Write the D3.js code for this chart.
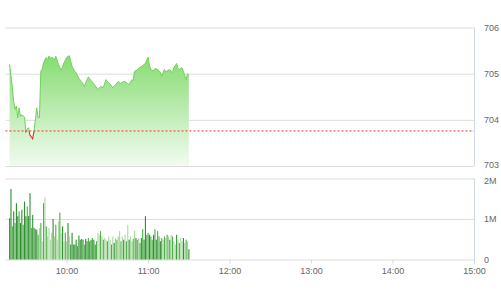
<!DOCTYPE html>
<html>
<head>
<meta charset="utf-8">
<script src="https://cdn.jsdelivr.net/npm/d3@7"></script>
<style>
  body { margin: 0; background: #fff; }
  svg { display: block; font-family: Roboto, "Liberation Sans", Arial, sans-serif; }
  .axis text { fill: #666; font-size: 9px; }
  .axis .domain { display: none; }
  .grid line { stroke: #dcdcdc; }
  .grid .domain { display: none; }
</style>
</head>
<body>
<script>
// reference (previous close)
const refPrice = 703.76;

// intraday price points
const priceTimes = [
  "9:18", "9:19", "9:20", "9:21", "9:22", "9:23", "9:24", "9:25", "9:26", "9:27",
  "9:29", "9:30", "9:31", "9:32", "9:33", "9:35", "9:36", "9:37", "9:38", "9:39",
  "9:40", "9:41", "9:42", "9:43", "9:44", "9:45", "9:46", "9:47", "9:48", "9:49",
  "9:51", "9:52", "9:54", "9:56", "9:58", "10:00", "10:02", "10:04", "10:06", "10:07",
  "10:09", "10:11", "10:13", "10:14", "10:16", "10:18", "10:20", "10:21", "10:23", "10:25",
  "10:27", "10:29", "10:31", "10:33", "10:34", "10:36", "10:38", "10:40", "10:41", "10:43",
  "10:45", "10:46", "10:48", "10:49", "10:50", "10:52", "10:53", "10:55", "10:57", "10:58",
  "10:59", "11:00", "11:01", "11:02", "11:04", "11:05", "11:07", "11:09", "11:10", "11:12",
  "11:13", "11:14", "11:16", "11:17", "11:18", "11:19", "11:21", "11:22", "11:23", "11:25",
  "11:26", "11:28", "11:29", "11:30"
];
const prices = [
  705.20, 704.95, 704.72, 704.40, 704.22, 704.30, 704.04, 704.26, 704.07, 704.11,
  704.06, 703.75, 703.80, 703.83, 703.67, 703.59, 703.76, 704.00, 704.26, 704.05,
  704.05, 705.05, 705.10, 705.23, 705.30, 705.35, 705.30, 705.38, 705.33, 705.36,
  705.30, 705.38, 705.20, 705.07, 705.23, 705.35, 705.39, 705.16, 705.05, 705.02,
  704.90, 704.83, 704.72, 704.80, 704.93, 704.85, 704.78, 704.74, 704.65, 704.72,
  704.70, 704.87, 704.80, 704.74, 704.69, 704.76, 704.83, 704.78, 704.82, 704.83,
  704.78, 704.76, 704.87, 704.85, 705.05, 705.08, 705.12, 705.15, 705.20, 705.22,
  705.30, 705.36, 705.18, 705.09, 705.06, 705.11, 705.09, 705.03, 704.94, 705.09,
  705.04, 705.06, 705.09, 705.05, 705.02, 705.13, 705.22, 705.12, 705.09, 705.13,
  705.05, 704.87, 705.00, 704.96
];

// volume per minute from 9:18, in millions of shares
const volStart = "9:18";
const volumes = [
  1.02, 1.74, 0.82, 1.19, 0.90, 1.39, 1.07, 1.19, 0.90, 1.23,
  0.86, 1.43, 1.07, 1.31, 1.07, 1.64, 0.78, 1.10, 0.78, 0.75,
  0.74, 0.61, 0.78, 0.90, 0.45, 1.39, 1.54, 0.82, 0.57, 0.78,
  0.49, 0.66, 1.00, 0.57, 0.86, 0.49, 0.94, 1.16, 0.66, 0.82,
  0.45, 0.66, 0.45, 0.90, 0.57, 0.37, 0.66, 0.37, 0.37, 0.49,
  0.33, 0.59, 0.49, 0.51, 0.49, 0.37, 0.51, 0.45, 0.53, 0.45,
  0.49, 0.53, 0.49, 0.37, 0.45, 0.66, 0.61, 0.70, 0.57, 0.49,
  0.53, 0.49, 0.45, 0.57, 0.49, 0.37, 0.57, 0.41, 0.53, 0.49,
  0.57, 0.70, 0.45, 0.57, 0.49, 0.61, 0.45, 0.86, 0.49, 0.57,
  0.45, 0.51, 0.71, 0.53, 0.49, 0.53, 0.41, 0.53, 0.75, 0.49,
  1.07, 0.61, 0.66, 0.61, 0.57, 0.49, 0.61, 0.75, 0.49, 0.70,
  0.57, 0.45, 0.53, 0.49, 0.57, 0.53, 0.61, 0.57, 0.49,
  0.61, 0.57, 0.45, 0.37, 0.61, 0.49, 0.41, 0.53, 0.45,
  0.53, 0.41, 0.49, 0.45, 0.25
];
// order side per bar: D = buy-driven, M = mixed, L = sell-driven
const volSides = (
  "DDMDMDDMDD" + "MDDMDDMDDM" + "DMLMLMLMLL" + "LLDLMLLMLD" +
  "LMLDLDDMDD" + "MDDMDMDDMD" + "DMDDMLLMLM" + "LLMLLMLDLM" +
  "LLMLDLMLDL" + "LMLDMLMDMD" + "DMMDMMDMDM" + "MDMLMLMLDL" +
  "MLLDLMLLDL" + "MLD"
).split("");

const priceTicks = [703, 704, 705, 706];
const volTicks = [0, 1e6, 2e6];
const timeTicks = ["10:00", "11:00", "12:00", "13:00", "14:00", "15:00"];
const sessionStart = "9:15", sessionEnd = "15:00";

const W = 501, H = 300;
const toDate = s => { const [h, m] = s.split(":").map(Number); return new Date(2020, 0, 1, h, m); };

const x = d3.scaleTime().domain([toDate(sessionStart), toDate(sessionEnd)]).range([5.5, 474]);
const yP = d3.scaleLinear().domain([703, 706]).range([166, 27.5]);
const yV = d3.scaleLinear().domain([0, 2e6]).range([259.5, 178.5]);

const svg = d3.select("body").append("svg").attr("width", W).attr("height", H);

const defs = svg.append("defs");
const grad = defs.append("linearGradient").attr("id", "areaGrad")
  .attr("x1", 0).attr("x2", 0).attr("y1", 0).attr("y2", 1);
grad.append("stop").attr("offset", "0%").attr("stop-color", "#86dc72");
grad.append("stop").attr("offset", "100%").attr("stop-color", "#f2fbf0");

defs.append("clipPath").attr("id", "aboveRef").append("rect")
  .attr("x", 0).attr("y", 0).attr("width", W).attr("height", yP(refPrice));
defs.append("clipPath").attr("id", "belowRef").append("rect")
  .attr("x", 0).attr("y", yP(refPrice)).attr("width", W).attr("height", H);

// grid lines
svg.append("g").attr("class", "grid")
  .attr("transform", `translate(${x.range()[1]},0)`)
  .call(d3.axisLeft(yP).tickValues(priceTicks).tickSize(x.range()[1] - x.range()[0]).tickFormat(""));
svg.append("g").attr("class", "grid")
  .attr("transform", `translate(${x.range()[1]},0)`)
  .call(d3.axisLeft(yV).tickValues(volTicks).tickSize(x.range()[1] - x.range()[0]).tickFormat(""));

// panel right borders
[[yP.range()[1], yP.range()[0]], [yV.range()[1], yV.range()[0] + 4]].forEach(([a, b]) => {
  svg.append("line").attr("x1", 474.5).attr("x2", 474.5).attr("y1", a).attr("y2", b)
    .attr("stroke", "#cfd9e6");
});

// price area + line
const pts = priceTimes.map((t, i) => ({ t: toDate(t), v: prices[i] }));
svg.append("path").datum(pts)
  .attr("fill", "url(#areaGrad)")
  .attr("d", d3.area().x(d => x(d.t)).y0(yP(703)).y1(d => yP(d.v)));
const line = d3.line().x(d => x(d.t)).y(d => yP(d.v));
svg.append("path").datum(pts).attr("clip-path", "url(#aboveRef)")
  .attr("fill", "none").attr("stroke", "#72d15e").attr("stroke-width", 1).attr("d", line);
svg.append("path").datum(pts).attr("clip-path", "url(#belowRef)")
  .attr("fill", "none").attr("stroke", "#e53935").attr("stroke-width", 1.2).attr("d", line);

// reference line
svg.append("line")
  .attr("x1", x.range()[0]).attr("x2", x.range()[1])
  .attr("y1", yP(refPrice)).attr("y2", yP(refPrice))
  .attr("stroke", "#e53935").attr("stroke-dasharray", "2,2");

// volume bars
const sideColor = d3.scaleOrdinal().domain(["D", "M", "L"]).range(["#2f8f2f", "#4fae4a", "#a9d9a0"]);
const v0 = toDate(volStart);
const bars = volumes.map((v, i) => ({ t: d3.timeMinute.offset(v0, i), v: v * 1e6, s: volSides[i] || "M" }));
svg.append("g").selectAll("rect").data(bars).join("rect")
  .attr("x", d => x(d.t) - 0.5)
  .attr("width", 1.1)
  .attr("y", d => yV(d.v))
  .attr("height", d => yV(0) - yV(d.v))
  .attr("fill", d => sideColor(d.s));

// y labels
svg.append("g").attr("class", "axis").attr("transform", "translate(478,0)")
  .call(d3.axisRight(yP).tickValues(priceTicks).tickSize(0).tickPadding(6).tickFormat(d3.format("d")))
  .selectAll("text").attr("dy", d => d === 703 ? "0.2em" : "0.32em");
svg.append("g").attr("class", "axis").attr("transform", "translate(478,0)")
  .call(d3.axisRight(yV).tickValues(volTicks).tickSize(0).tickPadding(6)
    .tickFormat(d => d === 0 ? "0" : (d / 1e6) + "M"))
  .selectAll("text").attr("dy", d => d === 2e6 ? "0.55em" : "0.32em");

// time axis
const xAxis = svg.append("g").attr("class", "axis").attr("transform", `translate(0,${yV(0)})`)
  .call(d3.axisBottom(x).tickValues(timeTicks.map(toDate)).tickSize(4).tickPadding(4)
    .tickFormat(d3.timeFormat("%H:%M")));
xAxis.selectAll("line").attr("stroke", "#cfd9e6");
</script>
</body>
</html>
